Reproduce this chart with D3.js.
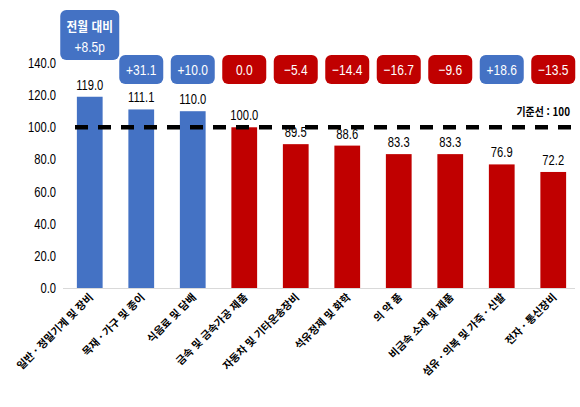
<!DOCTYPE html>
<html lang="ko">
<head>
<meta charset="UTF-8">
<title>Chart</title>
<script src="https://cdn.jsdelivr.net/npm/d3@7"></script>
<style>
    body { margin: 0; background: #fff; }
    .num { font-family: "Liberation Sans Narrow", "Liberation Sans", sans-serif; }
    .kor { font-family: "Noto Sans CJK KR", sans-serif; }
</style>
</head>
<body>
<script>
    const categories = ["일반 · 정밀기계 및 장비", "목재 · 가구 및 종이", "식음료 및 담배", "금속 및 금속가공 제품",
                        "자동차 및 기타운송장비", "석유정제 및 화학", "의 약 품", "비금속 소재 및 제품",
                        "섬유 · 의복 및 가죽 · 신발", "전자 · 통신장비"];
    const values = [119.0, 111.1, 110.0, 100.0, 89.5, 88.6, 83.3, 83.3, 76.9, 72.2];
    const changes = ["+8.5p", "+31.1", "+10.0", "0.0", "−5.4", "−14.4", "−16.7", "−9.6", "+18.6", "−13.5"];
    const changeUp = [true, true, true, false, false, false, false, false, true, false];
    const barUp = [true, true, true, false, false, false, false, false, false, false];
    const yTicks = [0, 20, 40, 60, 80, 100, 120, 140];
    const baseline = 100;

    const width = 580, height = 407;
    const blue = "#4472C4", red = "#C00000";
    const narrow = 0.8;   // squeeze text to look like a narrow face

    const svg = d3.select("body").append("svg")
        .attr("width", width).attr("height", height);

    const x = d3.scaleBand().domain(categories).range([64, 579]).paddingInner(0.5).paddingOuter(0.25);
    const y = d3.scaleLinear().domain([0, 140]).range([288, 63]);
    const cx = (i) => x(categories[i]) + x.bandwidth() / 2;

    // y axis labels
    svg.selectAll("text.ytick")
        .data(yTicks)
        .join("text").attr("class", "ytick num")
        .attr("transform", d => `translate(56,${y(d)}) scale(${narrow},1)`)
        .attr("dy", "0.36em")
        .attr("text-anchor", "end")
        .style("font-size", "14px")
        .text(d => d.toFixed(1));

    // baseline axis
    svg.append("line")
        .attr("x1", 63).attr("x2", 575)
        .attr("y1", y(0) + 0.5).attr("y2", y(0) + 0.5)
        .attr("stroke", "#d9d9d9").attr("stroke-width", 1);

    svg.selectAll("rect.bar")
        .data(values)
        .join("rect").attr("class", "bar")
        .attr("x", (d, i) => x(categories[i]))
        .attr("width", x.bandwidth())
        .attr("y", d => y(d))
        .attr("height", d => y(0) - y(d))
        .attr("fill", (d, i) => barUp[i] ? blue : red);

    // value labels
    svg.selectAll("text.val")
        .data(values)
        .join("text").attr("class", "val num")
        .attr("transform", (d, i) => `translate(${cx(i)},${y(d) - 7}) scale(${narrow},1)`)
        .attr("text-anchor", "middle")
        .style("font-size", "14px")
        .text(d => d.toFixed(1));

    // reference dashed line
    svg.append("line")
        .attr("x1", 75).attr("x2", 572)
        .attr("y1", y(baseline)).attr("y2", y(baseline))
        .attr("stroke", "#000").attr("stroke-width", 4.5)
        .attr("stroke-dasharray", "13 10");

    svg.append("text").attr("class", "kor")
        .attr("transform", `translate(570,${y(baseline) - 11}) scale(0.9,1)`)
        .attr("text-anchor", "end")
        .style("font-size", "11px").style("font-weight", "bold")
        .text("기준선 : 100");

    // change boxes
    const boxes = svg.selectAll("g.box")
        .data(changes)
        .join("g").attr("class", "box")
        .attr("transform", (d, i) => `translate(${cx(i)},0)`);

    boxes.append("rect")
        .attr("x", (d, i) => i === 0 ? -29.5 : -22)
        .attr("y", (d, i) => i === 0 ? 10 : 55)
        .attr("width", (d, i) => i === 0 ? 59 : 44)
        .attr("height", (d, i) => i === 0 ? 50 : 29)
        .attr("rx", 6)
        .attr("fill", (d, i) => changeUp[i] ? blue : red);

    boxes.filter((d, i) => i === 0).append("text")
        .attr("class", "kor")
        .attr("transform", `translate(0,31) scale(0.9,1)`)
        .attr("text-anchor", "middle")
        .attr("fill", "#fff")
        .style("font-size", "13px").style("font-weight", "bold")
        .text("전월 대비");

    boxes.append("text")
        .attr("class", "num")
        .attr("transform", (d, i) => `translate(0,${i === 0 ? 52 : 75}) scale(${narrow},1)`)
        .attr("text-anchor", "middle")
        .attr("fill", "#fff")
        .style("font-size", "15px")
        .text(d => d);

    // category labels
    svg.selectAll("text.cat")
        .data(categories)
        .join("text").attr("class", "cat kor")
        .attr("transform", d => `translate(${x(d) + x.bandwidth() / 2 + 4},298) rotate(-45)`)
        .attr("text-anchor", "end")
        .style("font-size", "10.5px").style("font-weight", "bold")
        .text(d => d);
</script>
</body>
</html>
